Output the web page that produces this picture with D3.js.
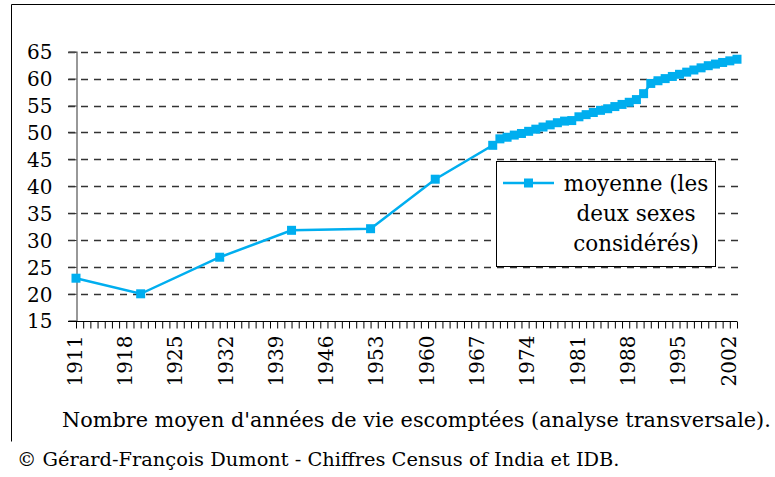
<!DOCTYPE html>
<html>
<head>
<meta charset="utf-8">
<script src="https://d3js.org/d3.v7.min.js"></script>
<style>
  body { margin: 0; background: #fff; }
</style>
</head>
<body>
<svg id="chart" width="775" height="477"></svg>
<script>
// data
var years = [1911, 1920, 1931, 1941, 1952, 1961, 1969,
  1970, 1971, 1972, 1973, 1974, 1975, 1976, 1977, 1978, 1979,
  1980, 1981, 1982, 1983, 1984, 1985, 1986, 1987, 1988, 1989,
  1990, 1991, 1992, 1993, 1994, 1995, 1996, 1997, 1998, 1999,
  2000, 2001, 2002, 2003];
var moyenne = [22.9, 20.0, 26.8, 31.8, 32.1, 41.3, 47.6,
  48.8, 49.1, 49.5, 49.8, 50.2, 50.6, 51.0, 51.4, 51.8, 52.1,
  52.2, 52.9, 53.3, 53.7, 54.1, 54.4, 54.8, 55.2, 55.6, 56.1,
  57.2, 59.1, 59.6, 60.0, 60.4, 60.8, 61.2, 61.6, 62.0, 62.4,
  62.7, 63.0, 63.3, 63.6];
var yTicks = [15, 20, 25, 30, 35, 40, 45, 50, 55, 60, 65];
var firstYear = 1911, lastYear = 2003, labelStep = 7;
var legendLines = ["moyenne (les", "deux sexes", "considérés)"];
var caption = "Nombre moyen d'années de vie escomptées (analyse transversale).";
var source = "© Gérard-François Dumont - Chiffres Census of India et IDB.";

var blue = "#00AEEF";
var font = "DejaVu Serif";
var svg = d3.select("#chart").attr("font-family", font);

// frame
svg.append("path")
  .attr("d", "M11.5,441.5 L11.5,4.5 L780,4.5")
  .attr("fill", "none").attr("stroke", "#000").attr("stroke-width", 1);

var x = d3.scaleLinear().domain([firstYear, lastYear]).range([76, 737]);
var y = d3.scaleLinear().domain([15, 65]).range([320.7, 51.7]);

// dashed gridlines
svg.append("g").selectAll("line").data(yTicks.filter(function(d){ return d > 15; }))
  .enter().append("line")
  .attr("x1", 68).attr("x2", 738)
  .attr("y1", function(d){ return Math.round(y(d)) + 0.5; })
  .attr("y2", function(d){ return Math.round(y(d)) + 0.5; })
  .attr("stroke", "#333").attr("stroke-width", 1.3)
  .attr("stroke-dasharray", "7,6");

// y axis
var yAxis = svg.append("g").attr("transform", "translate(76.5,0)")
  .call(d3.axisLeft(y).tickValues(yTicks).tickSize(8).tickPadding(16));
yAxis.attr("font-family", font).attr("font-size", null);
yAxis.select(".domain").attr("stroke", "#777").attr("stroke-width", 1.5);
yAxis.selectAll(".tick line").attr("stroke", "#333");
yAxis.selectAll("text").attr("font-size", 20).attr("fill", "#000").attr("dy", "0.36em");

// x axis
var allYears = d3.range(firstYear, lastYear + 1);
var xAxis = svg.append("g").attr("transform", "translate(0," + (Math.round(y(15)) + 0.5) + ")")
  .call(d3.axisBottom(x).tickValues(allYears).tickSize(7).tickSizeOuter(0)
    .tickFormat(function(d){ return (d - firstYear) % labelStep === 0 ? d : ""; }));
xAxis.attr("font-family", font).attr("font-size", null);
xAxis.select(".domain").attr("stroke", "#000").attr("d", "M68,0H737");
xAxis.selectAll(".tick line").attr("stroke", "#000");
xAxis.selectAll("text")
  .attr("font-size", 20).attr("fill", "#000")
  .attr("text-anchor", "end")
  .attr("transform", "rotate(-90)")
  .attr("x", -14).attr("y", -2).attr("dy", "0.36em");

// series
var pts = years.map(function(d, i){ return [d, moyenne[i]]; });
svg.append("path").datum(pts)
  .attr("fill", "none").attr("stroke", blue).attr("stroke-width", 2.5)
  .attr("d", d3.line().x(function(d){ return x(d[0]); }).y(function(d){ return y(d[1]); }));
svg.append("g").selectAll("rect").data(pts).enter().append("rect")
  .attr("x", function(d){ return x(d[0]) - 4.5; })
  .attr("y", function(d){ return y(d[1]) - 4.5; })
  .attr("width", 9).attr("height", 9)
  .attr("fill", blue);

// legend
var lg = svg.append("g");
lg.append("rect").attr("x", 496.5).attr("y", 161.5).attr("width", 219).attr("height", 105)
  .attr("fill", "#fff").attr("stroke", "#000").attr("stroke-width", 1);
lg.append("line").attr("x1", 503).attr("x2", 554).attr("y1", 183).attr("y2", 183)
  .attr("stroke", blue).attr("stroke-width", 2.5);
lg.append("rect").attr("x", 524).attr("y", 178.5).attr("width", 9).attr("height", 9).attr("fill", blue);
lg.selectAll("text").data(legendLines).enter().append("text")
  .attr("x", 636).attr("y", function(d, i){ return 191 + i * 30; })
  .attr("text-anchor", "middle").attr("font-size", 21.5)
  .text(function(d){ return d; });

// captions
svg.append("text").attr("x", 62).attr("y", 427).attr("font-size", 20.8).text(caption);
svg.append("text").attr("x", 17).attr("y", 466).attr("font-size", 19.4).text(source);
</script>
</body>
</html>
